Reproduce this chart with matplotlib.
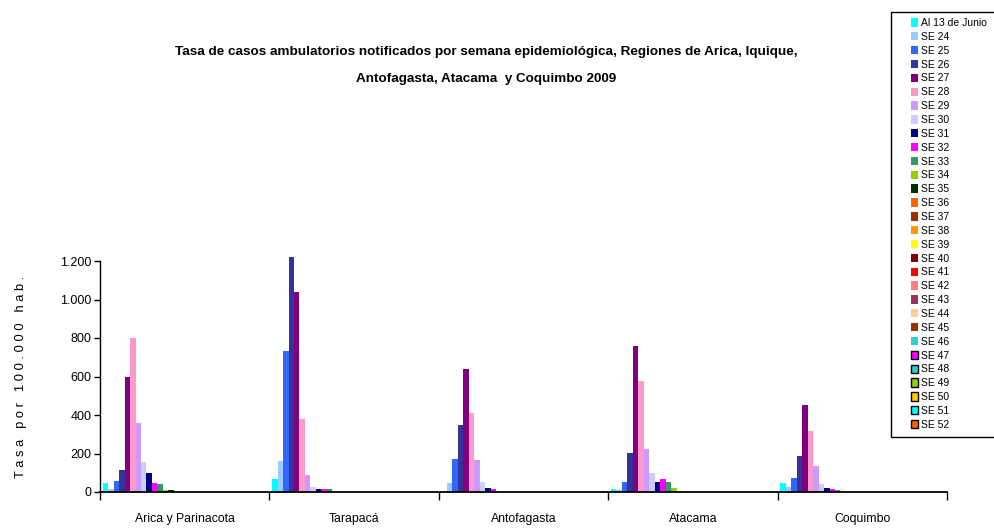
import matplotlib
matplotlib.use('Agg')
import matplotlib.pyplot as plt
from matplotlib.patches import Patch, Rectangle
from matplotlib.ticker import FuncFormatter, FixedLocator
import numpy as np

plt.rcParams['font.family'] = ['Liberation Sans', 'DejaVu Sans']

# ---------------------------
# data
regions = ['Arica y Parinacota', 'Tarapacá', 'Antofagasta', 'Atacama', 'Coquimbo']
series = ['Al 13 de Junio'] + ['SE %d' % w for w in range(24, 53)]

colors = ['#00FFFF', '#99CCFF', '#3366FF', '#333399', '#800080', '#FF99CC',
          '#CC99FF', '#CCCCFF', '#000080', '#FF00FF', '#339966', '#99CC00',
          '#003300', '#FF6600', '#993300', '#FF9900', '#FFFF00', '#800000',
          '#FF0000', '#FF8080', '#993366', '#FFCC99', '#993300', '#33CCCC',
          '#FF00FF', '#33CCCC', '#99CC00', '#FFCC00', '#00FFFF', '#FF6600']
edged = ['SE 47', 'SE 48', 'SE 49', 'SE 50', 'SE 51', 'SE 52']

# one value per series (Al 13 de Junio, SE 24 ... SE 52)
arica = [48, 16, 57, 114, 600, 800, 358, 156, 99, 47, 42, 12, 11, 0, 0,
         0, 0, 0, 0, 0, 0, 0, 0, 0, 0, 0, 0, 0, 0, 0]
tarapaca = [69, 162, 733, 1220, 1040, 380, 90, 28, 14, 14, 14, 0, 0, 0, 0,
            0, 0, 0, 0, 0, 0, 0, 0, 0, 0, 0, 0, 0, 0, 0]
antofagasta = [0, 48, 173, 349, 640, 411, 168, 53, 22, 17, 0, 0, 0, 0, 0,
               0, 0, 0, 0, 0, 0, 0, 0, 0, 0, 0, 0, 0, 0, 0]
atacama = [17, 11, 53, 204, 759, 577, 224, 100, 53, 69, 53, 22, 0, 0, 0,
           0, 0, 0, 0, 0, 0, 0, 0, 0, 0, 0, 0, 0, 0, 0]
coquimbo = [47, 27, 74, 189, 453, 318, 137, 43, 22, 17, 12, 0, 0, 0, 0,
            0, 0, 0, 0, 0, 0, 0, 0, 0, 0, 0, 0, 0, 0, 0]

values = np.array([arica, tarapaca, antofagasta, atacama, coquimbo])

# ---------------------------
W, H = 994, 530
fig = plt.figure(figsize=(W / 100, H / 100), dpi=100)
ax = fig.add_axes([100 / W, 1 - 492 / H, 847 / W, 231 / H])

n = len(series)
bw = 1.0 / (n + 1)
x = np.arange(len(regions))
for i, name in enumerate(series):
    off = -0.5 + bw + i * bw
    ax.bar(x + off, values[:, i], width=bw, color=colors[i], linewidth=0,
           clip_on=False)

ax.set_xlim(-0.5, len(regions) - 0.5)
ax.set_ylim(0, 1200)
ax.set_yticks(range(0, 1201, 200))
ax.yaxis.set_major_formatter(FuncFormatter(lambda v, p: '{:,.0f}'.format(v).replace(',', '.')))

ax.xaxis.set_major_locator(FixedLocator(np.arange(len(regions) + 1) - 0.5))
ax.xaxis.set_minor_locator(FixedLocator(x))
ax.set_xticklabels([], minor=False)
ax.set_xticklabels(regions, minor=True, fontsize=8.8)
ax.tick_params(axis='x', which='major', length=6, width=1, direction='out')
ax.tick_params(axis='x', which='minor', length=0, pad=15)
ax.tick_params(axis='y', length=4, width=1, direction='out', labelsize=9, pad=2)

for s in ['top', 'right']:
    ax.spines[s].set_visible(False)
ax.spines['left'].set_linewidth(1)
ax.spines['bottom'].set_linewidth(1.3)

ax.set_ylabel(' '.join('Tasa por 100.000 hab.'), fontsize=9.3, labelpad=24)

fig.text(486 / W, 1 - 52 / H,
         'Tasa de casos ambulatorios notificados por semana epidemiológica, Regiones de Arica, Iquique,',
         ha='center', va='center', fontsize=9.7, fontweight='bold')
fig.text(486 / W, 1 - 79 / H, 'Antofagasta, Atacama  y Coquimbo 2009',
         ha='center', va='center', fontsize=9.7, fontweight='bold')

# legend box
fig.patches.append(Rectangle((891 / W, 1 - 437 / H), 110 / W, 425 / H,
                             transform=fig.transFigure, facecolor='white',
                             edgecolor='black', linewidth=1, zorder=1))
handles = []
for name, c in zip(series, colors):
    if name in edged:
        handles.append(Patch(facecolor=c, edgecolor='black', linewidth=1))
    else:
        handles.append(Patch(facecolor=c, edgecolor='none'))
leg = fig.legend(handles, series, loc='upper left',
                 bbox_to_anchor=(911 / W, 1 - 18 / H), frameon=False,
                 fontsize=7.5, handlelength=0.7, handleheight=0.85,
                 handletextpad=0.3, labelspacing=0.37, borderpad=0,
                 borderaxespad=0)
leg.set_zorder(2)

fig.savefig('out.png', dpi=100)
